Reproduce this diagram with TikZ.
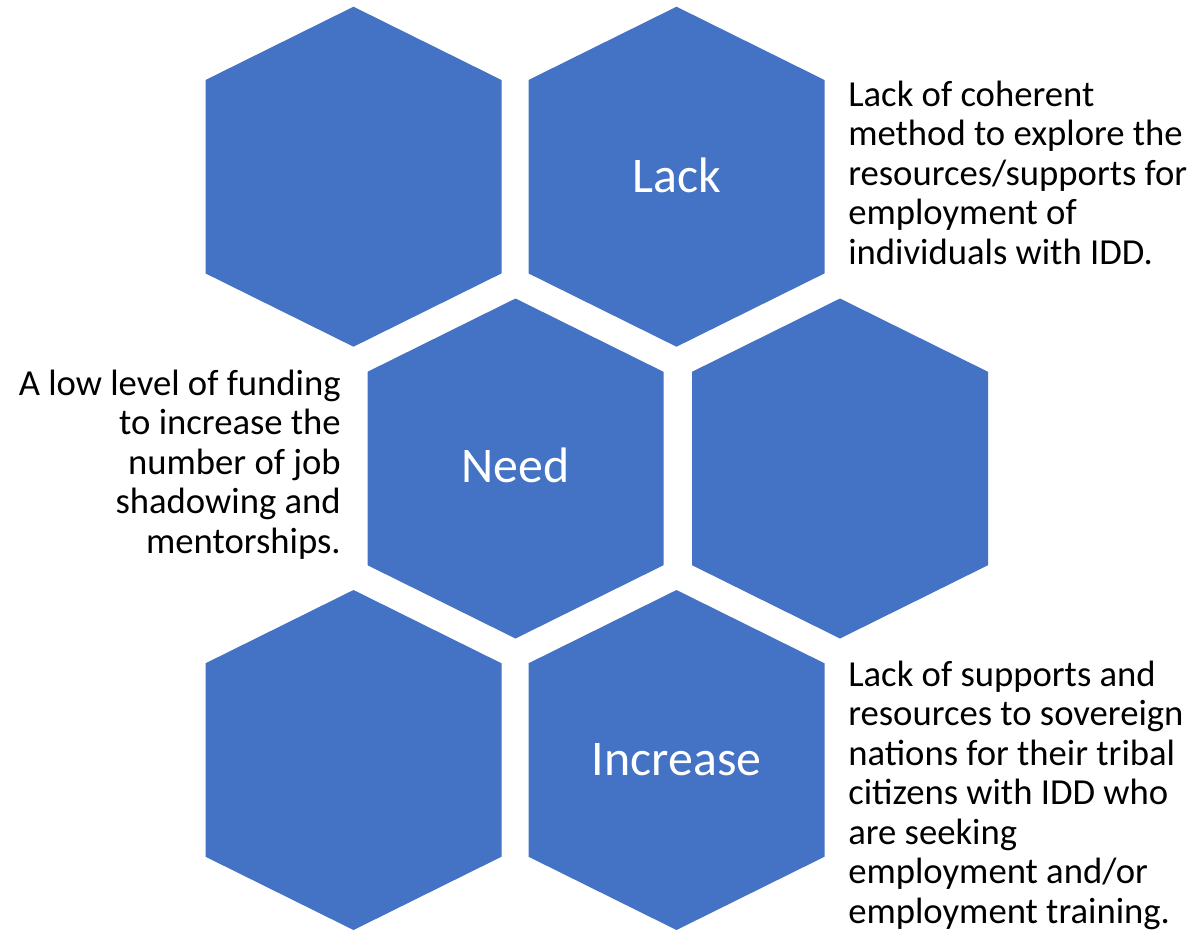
\documentclass[tikz,border=0pt]{standalone}
\usepackage{fontspec}
\setmainfont{Carlito}
\definecolor{hexblue}{HTML}{4472C4}
\tikzset{
  hexfill/.style={fill=hexblue},
  hexlabel/.style={text=white, inner sep=0pt, anchor=base, font=\fontsize{37.4pt}{45pt}\selectfont},
  sidetext/.style={text=black, inner sep=0pt, font=\fontsize{27.5pt}{29.6pt}\selectfont}
}
\newcommand{\hexcell}[2]{%
  \fill[hexfill, shift={(#1,#2)}] (0,-170) -- (148,-96.7) -- (148,96.7) -- (0,170) -- (-148,96.7) -- (-148,-96.7) -- cycle;}
\begin{document}
\begin{tikzpicture}[x=0.75pt, y=-0.75pt]
\useasboundingbox (0,0) rectangle (1199,940);
\hexcell{353.5}{176.7}
\hexcell{676.5}{176.7}
\hexcell{515.5}{468.5}
\hexcell{840}{468.5}
\hexcell{353.5}{760}
\hexcell{676.5}{760}
\node[hexlabel] (lack) at (677,192) {Lack};
\node[hexlabel] (need) at (515.5,482.7) {Need};
\node[hexlabel] (increase) at (676.5,775) {Increase};
\node[sidetext, anchor=base west, align=left] (t1) at (848,264) {Lack of coherent\\method to explore the\\resources/supports for\\employment of\\individuals with IDD.};
\node[sidetext, anchor=base east, align=right] (t2) at (341,553) {A low level of funding\\to increase the\\number of job\\shadowing and\\mentorships.};
\node[sidetext, anchor=base west, align=left] (t3) at (848,923) {Lack of supports and\\resources to sovereign\\nations for their tribal\\citizens with IDD who\\are seeking\\employment and/or\\employment training.};
\end{tikzpicture}
\end{document}
